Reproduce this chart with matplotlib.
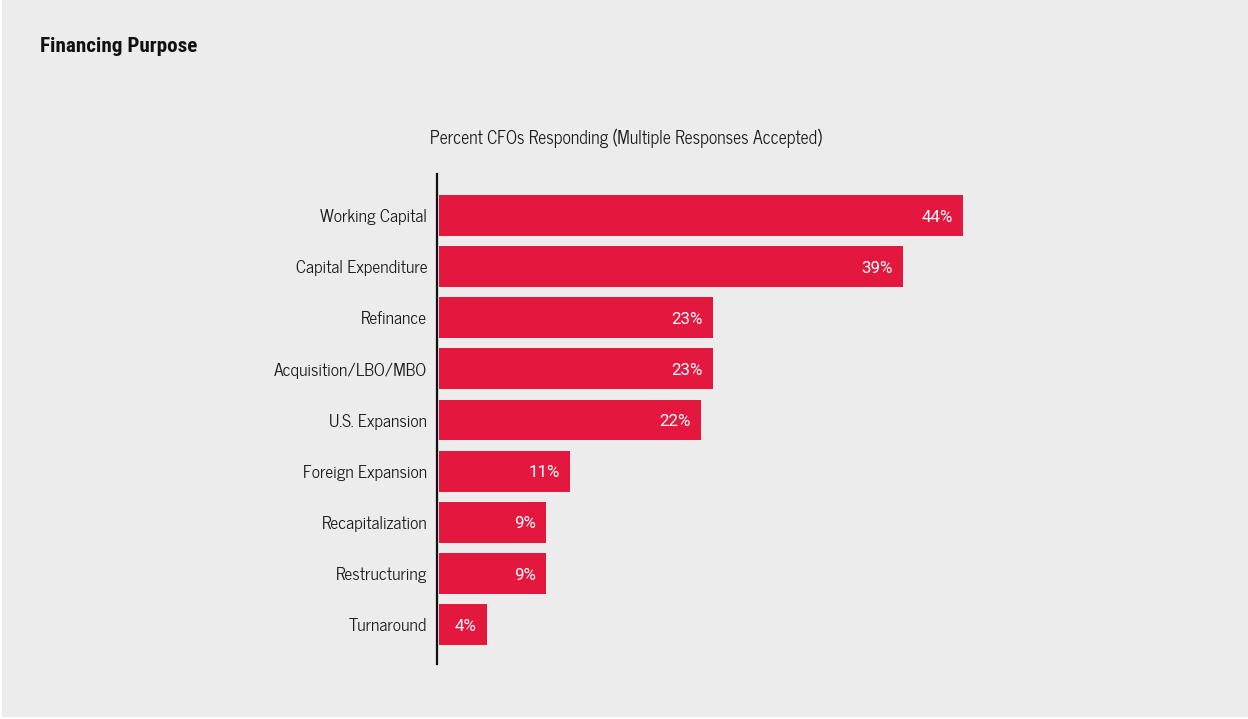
import matplotlib
matplotlib.use("Agg")
import matplotlib.pyplot as plt
from matplotlib.patches import Rectangle

categories = ["Working Capital", "Capital Expenditure", "Refinance",
              "Acquisition/LBO/MBO", "U.S. Expansion", "Foreign Expansion",
              "Recapitalization", "Restructuring", "Turnaround"]
values = [44, 39, 23, 23, 22, 11, 9, 9, 4]

BG = "#ececec"
RED = "#e4183e"
LABEL_FONT = ["News Cycle", "DejaVu Sans"]
TITLE_FONT = ["Roboto Condensed", "DejaVu Sans"]
VALUE_FONT = ["Roboto", "DejaVu Sans"]

W, H = 1248, 719
fig = plt.figure(figsize=(W / 100, H / 100), dpi=100, facecolor=BG)

# thin white frame on the left and bottom edges
fig.add_artist(Rectangle((0, 0), 2 / W, 1, transform=fig.transFigure,
                         facecolor="white", edgecolor="none"))
fig.add_artist(Rectangle((0, 0), 1, 2 / H, transform=fig.transFigure,
                         facecolor="white", edgecolor="none"))

# axes box in pixel coordinates
ax_left, ax_right = 437, 1150
ax_top, ax_bottom = 174, 664
ax = fig.add_axes([ax_left / W, 1 - ax_bottom / H,
                   (ax_right - ax_left) / W, (ax_bottom - ax_top) / H])
ax.set_facecolor(BG)

px_per_unit = 11.9
xmin = -2 / px_per_unit
ax.set_xlim(xmin, xmin + (ax_right - ax_left) / px_per_unit)
ax.set_ylim(len(categories) - 1 + 0.77, -0.81)

ypos = list(range(len(categories)))
ax.barh(ypos, values, height=0.8, color=RED, linewidth=0)

for y, v in zip(ypos, values):
    ax.annotate(f"{v}%", xy=(v, y), xytext=(-7.2, -1.2), textcoords="offset points",
                ha="right", va="center", color="white", fontsize=12.2,
                family=VALUE_FONT, fontweight="normal")

ax.set_yticks(ypos)
ax.set_yticklabels(categories, family=LABEL_FONT, fontsize=12.6, color="#1a1a1a")
ax.tick_params(axis="y", length=0, pad=7)
ax.set_xticks([])
for s in ["top", "right", "bottom"]:
    ax.spines[s].set_visible(False)
ax.spines["left"].set_linewidth(1.6)
ax.spines["left"].set_color("#111111")

fig.text(40 / W, 1 - 46.5 / H, "Financing Purpose", ha="left", va="center",
         fontsize=15.2, fontweight="bold", family=TITLE_FONT, color="#111111")
fig.text(626 / W, 1 - 138.5 / H,
         "Percent CFOs Responding (Multiple Responses Accepted)",
         ha="center", va="center", fontsize=12.7, family=LABEL_FONT, color="#1a1a1a")

fig.savefig("out.png", dpi=100, facecolor=BG)
